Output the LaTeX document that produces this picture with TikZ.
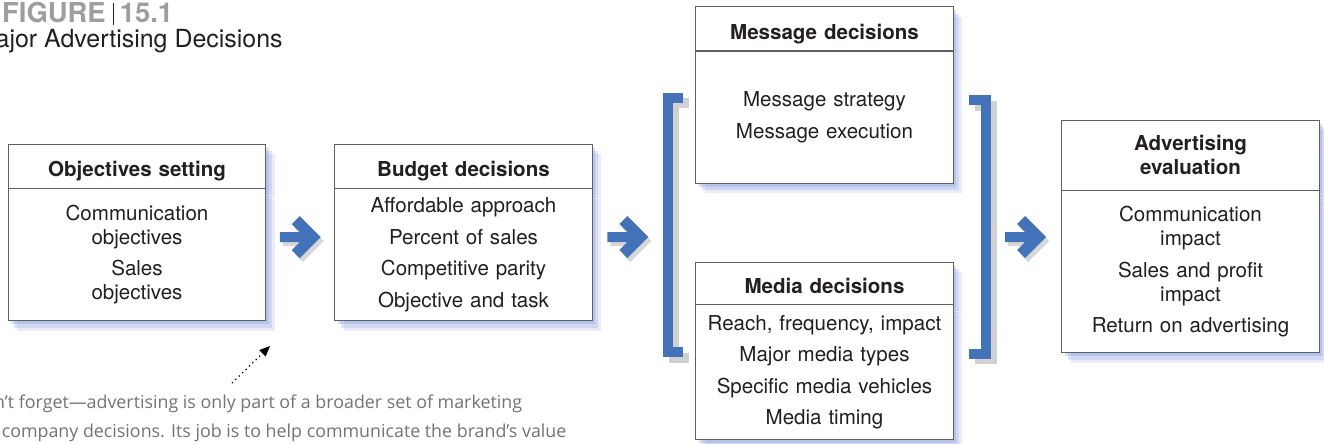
\documentclass[tikz,border=0pt]{standalone}
\usepackage{fontspec}
\setmainfont{TeX Gyre Heros}
\newfontfamily\notefont{Open Sans}
\usetikzlibrary{positioning,shadows,calc,arrows.meta}

\definecolor{adblue}{RGB}{68,114,185}
\definecolor{boxline}{RGB}{95,95,95}
\definecolor{shadowblue}{RGB}{140,158,222}
\definecolor{figgrey}{RGB}{158,158,158}
\definecolor{notegrey}{RGB}{115,115,115}
\definecolor{textdark}{RGB}{35,31,32}

\newcommand{\bodyfont}{\fontsize{11.7}{13.6}\selectfont}
\newcommand{\itemgap}{\\[4.25pt]}

\begin{document}
\begin{tikzpicture}[
    x=0.02cm, y=-0.02cm,
    boxshadow/.style={
        drop shadow={shadow xshift=1.8mm, shadow yshift=-2.0mm, fill=shadowblue, opacity=0.18},
        drop shadow={shadow xshift=1.2mm, shadow yshift=-1.4mm, fill=shadowblue, opacity=0.28},
        drop shadow={shadow xshift=0.6mm, shadow yshift=-0.7mm, fill=shadowblue, opacity=0.35}},
    headbox/.style={rectangle, draw=boxline, fill=white, boxshadow, minimum width=5.15cm,
        minimum height=0.88cm, text width=4.9cm, align=center, inner sep=0pt,
        text height=12.1pt, text depth=0pt, font=\bodyfont\bfseries, text=textdark},
    bodybox/.style={headbox, minimum height=2.64cm, text height=, text depth=, font=\bodyfont},
    bracketbar/.style={draw=adblue, line width=0.2cm, line cap=butt, line join=miter},
    bracketshade/.style={draw=black!40, line width=0.2cm, line cap=butt, line join=miter, opacity=0.45},
    notetext/.style={anchor=base west, inner sep=0pt, font=\notefont\fontsize{10.15}{12}\selectfont, text=notegrey},
    notearrow/.style={dotted, line width=0.7pt, -{Triangle[length=6pt, width=5pt]}},
    blockarrow/.pic={
        \fill[black!45, opacity=0.35, shift={(3,4)}] (20.5,0) -- (-0.5,-21) -- (-8.5,-13) -- (-0.5,-5) -- (-20.5,-5)
            -- (-20.5,5) -- (-0.5,5) -- (-8.5,13) -- (-0.5,21) -- cycle;
        \fill[adblue] (20.5,0) -- (-0.5,-21) -- (-8.5,-13) -- (-0.5,-5) -- (-20.5,-5)
            -- (-20.5,5) -- (-0.5,5) -- (-8.5,13) -- (-0.5,21) -- cycle;
    }
]
    \useasboundingbox (0,0) rectangle (1324,443);
    \clip (0,0) rectangle (1324,443);

    % title
    \node[anchor=base east, inner sep=0pt, font=\fontsize{15.6}{19}\selectfont\bfseries] (figlabel) at (173.5,22.7)
        {\textcolor{figgrey}{FIGURE}\hspace{4pt}\textcolor{textdark}{\rule[-1.3pt]{0.6pt}{12.5pt}}\hspace{3.4pt}\textcolor{figgrey}{15.1}};
    \node[anchor=base east, inner sep=0pt, font=\fontsize{14.2}{16}\selectfont, text=textdark] (figcaption) at (283,47)
        {Major Advertising Decisions};

    % boxes
    \node[headbox] (objhead) at (137,166) {Objectives setting};
    \node[bodybox, below=0pt of objhead] (objbody) {Communication\\objectives\itemgap Sales\\objectives};

    \node[headbox] (budhead) at (463.5,166) {Budget decisions};
    \node[bodybox, below=0pt of budhead] (budbody) {Affordable approach\itemgap Percent of sales\itemgap
        Competitive parity\itemgap Objective and task};

    \node[headbox] (msghead) at (824.5,28.7) {Message decisions};
    \node[bodybox, below=0pt of msghead] (msgbody) {Message strategy\itemgap Message execution};

    \node[headbox, minimum height=0.84cm] (medhead) at (824.5,283) {Media decisions};
    \node[bodybox, minimum height=2.7cm, below=0pt of medhead] (medbody) {Reach, frequency, impact\itemgap
        Major media types\itemgap Specific media vehicles\itemgap Media timing};

    \node[headbox, minimum height=1.4cm, text height=, text depth=] (evalhead) at (1190.5,155) {Advertising\\evaluation};
    \node[bodybox, minimum height=3.24cm, below=0pt of evalhead] (evalbody) {Communication\\impact\itemgap
        Sales and profit\\impact\itemgap Return on advertising};

    % brackets
    \coordinate (lbrack) at (663,237);
    \coordinate (rbrack) at (990,237);
    \draw[bracketshade] (689,103) -- (674,103) -- (674,357.5) -- (689,357.5);
    \draw[bracketbar] (683,97.5) -- (668,97.5) -- (668,352) -- (683,352);
    \draw[bracketshade] (975,105.5) -- (991.5,105.5) -- (991.5,359) -- (975,359);
    \draw[bracketbar] (969,100) -- (985.5,100) -- (985.5,353.5) -- (969,353.5);

    % block arrows
    \path ($(objbody.east)!0.5!(budbody.west)$) ++(0,-17.5) pic {blockarrow};
    \path ($(budbody.east |- lbrack)!0.5!(lbrack)$) pic {blockarrow};
    \path ($(rbrack)!0.5!(evalbody.west |- rbrack)$) pic {blockarrow};

    % side note
    \node[notetext] (noteone) at (-30,408) {Don’t forget—advertising is only part of a broader set of marketing};
    \node[notetext] (notetwo) at (-35,437) {and company decisions. Its job is to help communicate the brand’s value};
    \coordinate (notetail) at (232,383);
    \coordinate (notetip) at (270,346);
    \draw[notearrow] (notetail) -- (notetip);
\end{tikzpicture}
\end{document}
